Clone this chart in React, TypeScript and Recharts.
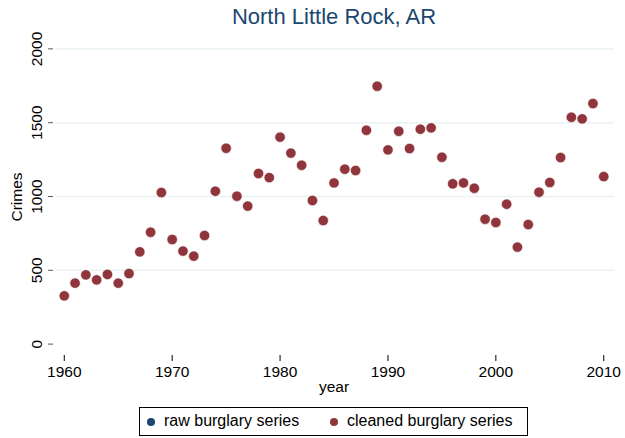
import React from "react";
import {
  ScatterChart,
  Scatter,
  XAxis,
  YAxis,
  CartesianGrid,
} from "recharts";

// Years and burglary counts
const years = [
  1960, 1961, 1962, 1963, 1964, 1965, 1966, 1967, 1968, 1969,
  1970, 1971, 1972, 1973, 1974, 1975, 1976, 1977, 1978, 1979,
  1980, 1981, 1982, 1983, 1984, 1985, 1986, 1987, 1988, 1989,
  1990, 1991, 1992, 1993, 1994, 1995, 1996, 1997, 1998, 1999,
  2000, 2001, 2002, 2003, 2004, 2005, 2006, 2007, 2008, 2009,
  2010,
];

const rawBurglary = [
  327, 413, 469, 435, 472, 413, 478, 625, 758, 1027,
  709, 630, 596, 736, 1036, 1327, 1002, 935, 1156, 1128,
  1402, 1294, 1212, 973, 837, 1092, 1185, 1176, 1449, 1747,
  1316, 1442, 1325, 1456, 1465, 1266, 1086, 1092, 1056, 846,
  824, 948, 657, 810, 1029, 1095, 1264, 1537, 1526, 1630,
  1135,
];

const cleanedBurglary = [
  327, 413, 469, 435, 472, 413, 478, 625, 758, 1027,
  709, 630, 596, 736, 1036, 1327, 1002, 935, 1156, 1128,
  1402, 1294, 1212, 973, 837, 1092, 1185, 1176, 1449, 1747,
  1316, 1442, 1325, 1456, 1465, 1266, 1086, 1092, 1056, 846,
  824, 948, 657, 810, 1029, 1095, 1264, 1537, 1526, 1630,
  1135,
];

const xTicks = [1960, 1970, 1980, 1990, 2000, 2010];
const yTicks = [0, 500, 1000, 1500, 2000];
const gridValues = [500, 1000, 1500, 2000];

const rawData = years.map((year, i) => ({ year, crimes: rawBurglary[i] }));
const cleanedData = years.map((year, i) => ({ year, crimes: cleanedBurglary[i] }));

const FONT = "'Liberation Sans', Arial, Helvetica, sans-serif";
const NAVY = "#1a476f";
const MAROON = "#90353b";

const XTick = (props: any) => {
  const { x, y, payload } = props;
  return (
    <g>
      <line x1={x} x2={x} y1={y + 5} y2={y + 11} stroke="#000" strokeWidth={1} />
      <text x={x} y={y + 27} textAnchor="middle" fontSize={15.5} fontFamily={FONT} fill="#000">
        {payload.value}
      </text>
    </g>
  );
};

const YTick = (props: any) => {
  const { x, y, payload } = props;
  return (
    <g>
      <line x1={x - 7} x2={x - 2} y1={y} y2={y} stroke="#555" strokeWidth={1} />
      <text
        x={x - 13}
        y={y}
        textAnchor="middle"
        fontSize={15.5}
        fontFamily={FONT}
        fill="#000"
        transform={`rotate(-90 ${x - 13} ${y})`}
      >
        {payload.value}
      </text>
    </g>
  );
};

export default function App() {
  return (
    <div
      style={{
        position: "absolute",
        left: 0,
        top: 0,
        width: 625,
        height: 438,
        background: "#fff",
        fontFamily: FONT,
      }}
    >
      <div
        style={{
          position: "absolute",
          left: 0,
          width: 668,
          top: 4,
          textAlign: "center",
          fontSize: 22,
          color: NAVY,
        }}
      >
        North Little Rock, AR
      </div>
      <ScatterChart
        width={625}
        height={438}
        margin={{ top: 43, right: 11, bottom: 58, left: 10 }}
      >
        <CartesianGrid
          vertical={false}
          horizontalValues={gridValues}
          stroke="#eaf2f3"
          strokeWidth={1.5}
        />
        <XAxis
          type="number"
          dataKey="year"
          domain={[1959.14, 2010.95]}
          ticks={xTicks}
          allowDataOverflow
          axisLine={false}
          tickLine={false}
          tickSize={0}
          tickMargin={0}
          height={30}
          tick={<XTick />}
        />
        <YAxis
          type="number"
          dataKey="crimes"
          domain={[-40, 2040]}
          ticks={yTicks}
          allowDataOverflow
          axisLine={false}
          tickLine={false}
          tickSize={0}
          tickMargin={0}
          width={45}
          tick={<YTick />}
        />
        <Scatter
          name="raw burglary series"
          data={rawData}
          fill={NAVY}
          shape="circle"
          isAnimationActive={false}
        />
        <Scatter
          name="cleaned burglary series"
          data={cleanedData}
          fill={MAROON}
          stroke="#fff"
          strokeWidth={0.5}
          shape={(p: any) => (
            <circle cx={p.cx} cy={p.cy} r={5.2} fill={MAROON} stroke="#fff" strokeWidth={0.6} />
          )}
          isAnimationActive={false}
        />
      </ScatterChart>
      <div
        style={{
          position: "absolute",
          left: 0,
          width: 668,
          top: 378,
          textAlign: "center",
          fontSize: 15.5,
          color: "#000",
        }}
      >
        year
      </div>
      <div
        style={{
          position: "absolute",
          left: 0,
          top: 197,
          width: 0,
          height: 0,
        }}
      >
        <div
          style={{
            position: "absolute",
            left: 17,
            top: 0,
            transform: "translate(-50%, -50%) rotate(-90deg)",
            fontSize: 15.5,
            whiteSpace: "nowrap",
            color: "#000",
          }}
        >
          Crimes
        </div>
      </div>
      <div
        style={{
          position: "absolute",
          left: 139,
          top: 407,
          width: 387,
          height: 27,
          border: "1px solid #000",
          boxSizing: "content-box",
          fontSize: 16,
          color: "#000",
        }}
      >
        <span
          style={{
            position: "absolute",
            left: 7,
            top: 10,
            width: 8,
            height: 8,
            borderRadius: "50%",
            background: NAVY,
          }}
        />
        <span style={{ position: "absolute", left: 24, top: 4, whiteSpace: "nowrap" }}>
          raw burglary series
        </span>
        <span
          style={{
            position: "absolute",
            left: 190,
            top: 10,
            width: 8,
            height: 8,
            borderRadius: "50%",
            background: MAROON,
          }}
        />
        <span style={{ position: "absolute", left: 207, top: 4, whiteSpace: "nowrap" }}>
          cleaned burglary series
        </span>
      </div>
    </div>
  );
}
